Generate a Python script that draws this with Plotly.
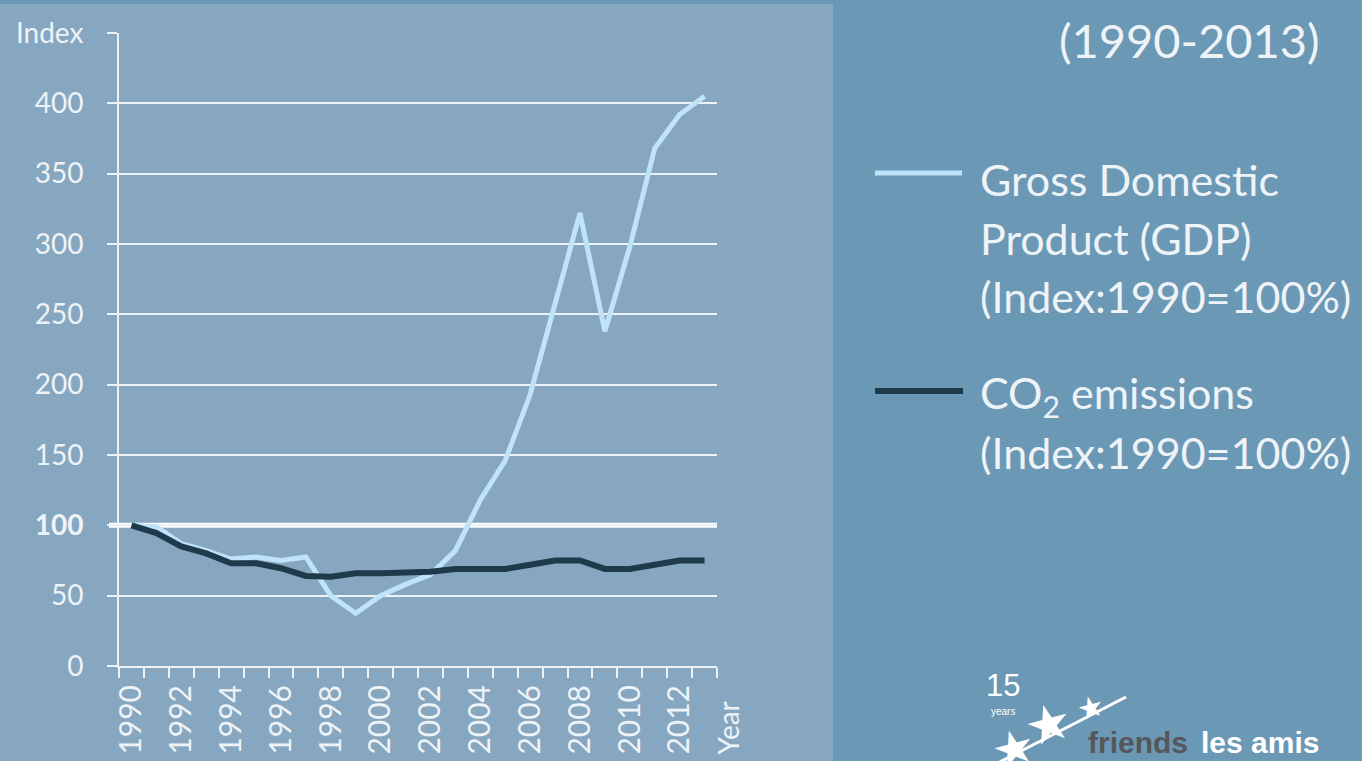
import plotly.graph_objects as go

# ---- data -------------------------------------------------------------
years = list(range(1990, 2014))
gdp_index = [100, 99, 87, 82, 76, 77.5, 75, 77.5, 50, 37.5, 50, 58,
             65, 82, 118, 146, 193, 256, 322, 238, 298, 368, 392, 405]
co2_index = [100, 94.5, 85, 80, 73, 73, 69.5, 64, 63.5, 66, 66, 66,
             67, 69, 69, 69, 72, 75, 75, 69, 69, 72, 75, 75]

y_tickvals = [0, 50, 100, 150, 200, 250, 300, 350, 400, 450]
y_ticktext = ["0", "50", "<b>100</b>", "150", "200", "250", "300", "350", "400", "Index"]
x_tickvals = list(range(1990, 2013, 2))
x_ticktext = [str(y) for y in x_tickvals]

# ---- styling ------------------------------------------------------------
W, H = 1362, 761
OUTER = "#6B98B5"
PANEL = "#87A7C1"
GRID = "#EDF2F6"
TXT = "#EEF3F7"
GDP_C = "#BFE3F8"
CO2_C = "#1E3A4B"
FONT = "Lato"


def fx(p):
    return p / W


def fy(p):
    return 1 - p / H


fig = go.Figure()

fig.add_trace(go.Scatter(
    x=years, y=gdp_index, mode="lines", name="GDP",
    line=dict(color=GDP_C, width=5), showlegend=False, hoverinfo="skip"))
fig.add_trace(go.Scatter(
    x=years, y=co2_index, mode="lines", name="CO2",
    line=dict(color=CO2_C, width=6), showlegend=False, hoverinfo="skip"))

fig.update_layout(
    width=W, height=H,
    margin=dict(l=0, r=0, t=0, b=0, pad=0),
    paper_bgcolor=OUTER,
    plot_bgcolor="rgba(0,0,0,0)",
    font=dict(family=FONT, color=TXT),
    xaxis=dict(
        domain=[fx(119), fx(717)],
        range=[1989.5, 2013.5],
        automargin=False,
        tickmode="array", tickvals=x_tickvals, ticktext=x_ticktext,
        tickangle=-90, ticks="", ticklabelstandoff=5,
        tickfont=dict(size=30, color=TXT, family=FONT),
        showgrid=False, zeroline=False,
        showline=True, linecolor=GRID, linewidth=2,
        minor=dict(tickmode="linear", tick0=1989.5, dtick=1,
                   ticks="outside", ticklen=10, tickwidth=2,
                   tickcolor=GRID, showgrid=False),
    ),
    yaxis=dict(
        domain=[fy(666), fy(33)],
        range=[0, 450],
        automargin=False,
        tickmode="array", tickvals=y_tickvals, ticktext=y_ticktext,
        ticks="outside", ticklen=10, tickwidth=2, tickcolor=GRID,
        ticklabelstandoff=18,
        tickfont=dict(size=28, color=TXT, family=FONT),
        showgrid=True, gridcolor=GRID, gridwidth=2,
        zeroline=False,
        showline=True, linecolor=GRID, linewidth=2,
    ),
)

shapes = [
    # lighter chart panel
    dict(type="rect", xref="paper", yref="paper",
         x0=0, x1=fx(833), y0=0, y1=fy(4),
         fillcolor=PANEL, line=dict(width=0), layer="below"),
    # emphasised baseline at 100
    dict(type="line", xref="paper", yref="y",
         x0=fx(109), x1=fx(717), y0=100, y1=100,
         line=dict(color="#FFFFFF", width=5), layer="below"),
    # legend samples
    dict(type="line", xref="paper", yref="paper",
         x0=fx(875), x1=fx(962), y0=fy(173), y1=fy(173),
         line=dict(color=GDP_C, width=5)),
    dict(type="line", xref="paper", yref="paper",
         x0=fx(875), x1=fx(963), y0=fy(391), y1=fy(391),
         line=dict(color=CO2_C, width=6)),
    # logo star trail
    dict(type="line", xref="paper", yref="paper",
         x0=fx(992), x1=fx(1126), y0=fy(766), y1=fy(697),
         line=dict(color="#FFFFFF", width=3)),
]

annotations = [
    dict(text="(1990-2013)", x=fx(1322), y=fy(40), xanchor="right", yanchor="middle",
         font=dict(size=47, color=TXT, family=FONT)),
    dict(text="Year", x=fx(727), y=fy(700), xanchor="center", yanchor="top",
         textangle=-90, font=dict(size=28, color=TXT, family=FONT)),
]

legend_lines = [
    ("Gross Domestic", 180),
    ("Product (GDP)", 238),
    ("(Index:1990=100%)", 296),
    ("CO<sub>2</sub> emissions", 395),
    ("(Index:1990=100%)", 452),
]
for txt, yy in legend_lines:
    annotations.append(dict(text=txt, x=fx(978), y=fy(yy), xanchor="left",
                            yanchor="middle",
                            font=dict(size=43, color=TXT, family=FONT)))

# logo
annotations += [
    dict(text="15", x=fx(1003), y=fy(685), xanchor="center", yanchor="middle",
         font=dict(size=31, color="#FFFFFF", family="Liberation Sans Narrow, Liberation Sans")),
    dict(text="years", x=fx(1003), y=fy(711), xanchor="center", yanchor="middle",
         font=dict(size=10, color="#FFFFFF", family="Liberation Sans Narrow, Liberation Sans")),
    dict(text="★", x=fx(1048), y=fy(724), xanchor="center", yanchor="middle",
         textangle=-15, font=dict(size=52, color="#FFFFFF", family="DejaVu Sans")),
    dict(text="★", x=fx(1090), y=fy(707), xanchor="center", yanchor="middle",
         textangle=-15, font=dict(size=30, color="#FFFFFF", family="DejaVu Sans")),
    dict(text="★", x=fx(1013), y=fy(748), xanchor="center", yanchor="middle",
         textangle=-15, font=dict(size=48, color="#FFFFFF", family="DejaVu Sans")),
    dict(text="<b>friends</b>", x=fx(1086), y=fy(742), xanchor="left", yanchor="middle",
         font=dict(size=30, color="#55575C", family="Liberation Sans")),
    dict(text="<b>les amis</b>", x=fx(1199), y=fy(742), xanchor="left", yanchor="middle",
         font=dict(size=30, color="#FFFFFF", family="Liberation Sans")),
]

for a in annotations:
    a.update(xref="paper", yref="paper", showarrow=False)

fig.update_layout(shapes=shapes, annotations=annotations)

fig.write_html("out.html")
